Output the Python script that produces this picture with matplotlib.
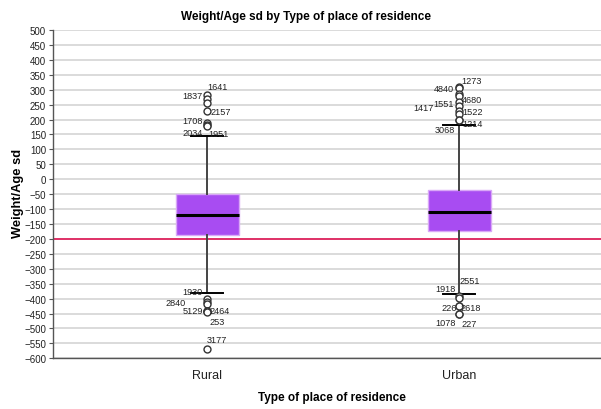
import matplotlib
matplotlib.use("Agg")
import matplotlib.pyplot as plt

plt.rcParams['font.family'] = ['Liberation Sans', 'DejaVu Sans']

# ---- data ----
categories = ["Rural", "Urban"]
medians = [-119, -109]
q1s = [-186, -173]
q3s = [-51, -35]
whisk_lo = [-381, -385]
whisk_hi = [146, 182]
reference_value = -200

rural_out_vals = [282, 268, 256, 228, 188, 181, 180,
                  -401, -410, -418, -441, -443, -446, -570]
rural_out_labels = ["1837", "1641", "", "2157", "1708", "2034", "1951",
                    "1930", "2840", "", "5129", "2464", "253", "3177"]
urban_out_vals = [308, 306, 286, 278, 258, 246, 230, 219, 200, 199,
                  -390, -399, -425, -426, -451, -452]
urban_out_labels = ["1273", "4840", "", "4680", "1551", "1417", "1522", "", "3068", "1214",
                    "2551", "1918", "226", "2618", "1078", "227"]

yticks = list(range(-600, 501, 50))

# ---- label offsets (pixels; +dy up) ----
rural_offsets = [(-4, 0), (0, 13), (0, 0), (3, 0), (-4, 3), (-4, -7), (1, -8),
                 (-4, 7), (-21, -1), (0, 0), (-4, 0), (2, 1), (2, -9), (0, 10)]
urban_offsets = [(2, 7), (-5, -1), (0, 0), (3, -3), (-5, -1), (-25, -2), (3, -1), (0, 0), (-4, -10), (3, -4),
                 (0, 15), (-3, 10), (-2, -1), (1, -1), (-3, -9), (2, -9)]

W, H = 601, 410
fig = plt.figure(figsize=(W / 100, H / 100), dpi=100)
ax = fig.add_axes([53 / W, (H - 359.3) / H, (W - 53) / W, (359.3 - 31) / H])

positions = [1, 2]
stats = []
fl = [rural_out_vals, urban_out_vals]
for i in range(2):
    stats.append(dict(med=medians[i], q1=q1s[i], q3=q3s[i],
                      whislo=whisk_lo[i], whishi=whisk_hi[i], fliers=fl[i]))

ax.set_ylim(-600, 500)
ax.set_xlim(0.389, 2.563)
ax.set_yticks(yticks)
ax.yaxis.grid(True, color='#d8d8d8', linewidth=1.3, zorder=0)
ax.set_axisbelow(True)

ax.axhline(reference_value, color='#e0245e', linewidth=1.3, zorder=1)

ax.bxp(stats, positions=positions, widths=0.25, patch_artist=True, showfliers=True,
       boxprops=dict(facecolor='#a84cf2', edgecolor='#d9a8f7', linewidth=1.0),
       medianprops=dict(color='black', linewidth=2.2),
       whiskerprops=dict(color='#444444', linewidth=1.4),
       capprops=dict(color='black', linewidth=1.4),
       capwidths=0.13,
       flierprops=dict(marker='o', markerfacecolor='white', markeredgecolor='#333333',
                       markersize=5, markeredgewidth=1.0),
       zorder=3)

for pos, vals, labs, offs in [(1, rural_out_vals, rural_out_labels, rural_offsets),
                              (2, urban_out_vals, urban_out_labels, urban_offsets)]:
    for v, lab, (dx, dy) in zip(vals, labs, offs):
        if not lab:
            continue
        ha = 'right' if dx < 0 else 'left'
        ax.annotate(lab, (pos, v), xytext=(dx, dy), textcoords='offset pixels',
                    ha=ha, va='center', fontsize=6.6, color='#222222', zorder=5)

ax.set_xticks(positions)
ax.set_xticklabels(categories, fontsize=9, color='#222222')
ax.tick_params(axis='x', length=0, pad=8)
ax.tick_params(axis='y', labelsize=7, length=3, color='#555555', labelcolor='#222222', pad=2)

for s in ['top', 'right']:
    ax.spines[s].set_visible(False)
for s in ['left', 'bottom']:
    ax.spines[s].set_color('#555555')
    ax.spines[s].set_linewidth(1.0)

fig.text(306 / W, 1 - 17 / H, "Weight/Age sd by Type of place of residence",
         ha='center', va='center', fontsize=8.5, fontweight='bold')
fig.text(332 / W, 1 - 398 / H, "Type of place of residence",
         ha='center', va='center', fontsize=8.5, fontweight='bold')
fig.text(18 / W, 1 - 193 / H, "Weight/Age sd", rotation=90,
         ha='center', va='center', fontsize=9.3, fontweight='bold')

fig.savefig("out.png", dpi=100)
